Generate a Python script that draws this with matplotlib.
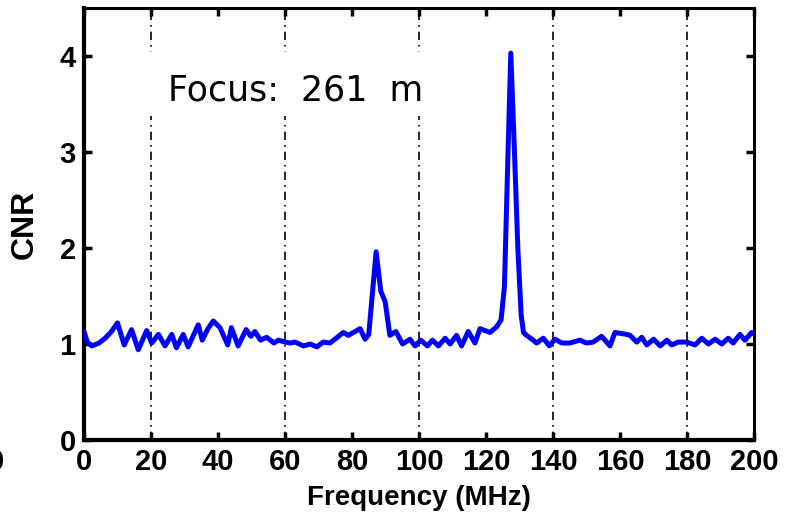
import matplotlib
matplotlib.use("Agg")
import matplotlib.pyplot as plt
from matplotlib.patches import Rectangle

# CNR spectrum at 261 m focus
freq = [0, 1.0, 2.3, 4.5, 6.3, 8.2, 10, 12, 14.2, 16.2, 18.7, 20.2, 22.2,
        24.2, 26.2, 27.6, 29.6, 31.1, 34.1, 35.3, 37.0, 38.6, 40.6, 42.9,
        44, 46, 48.4, 49.8, 51, 52.7, 54.5, 56.7, 58, 60, 61.5, 63, 65.5,
        67.5, 69.5, 71.4, 73.4, 74.9, 77.4, 78.9, 82.4, 83.9, 85.0, 87.2,
        88.6, 89.9, 91.3, 93.1, 95.1, 97.3, 98.8, 100.5, 102.5, 104.0, 105.8,
        107.8, 109.3, 111.2, 112.7, 114.7, 116.7, 118.2, 121.2, 123.2, 124.5,
        125.5, 126.5, 127.4, 128.5, 129.5, 130.5, 131.2, 132.1, 134.1, 135.1,
        137.1, 138.9, 140.6, 142.6, 145, 148, 150, 152, 154.5, 157, 158.5,
        162, 163, 165, 166.5, 168, 170, 172, 174, 175.4, 177.4, 179.9, 182.4,
        184.4, 186.4, 188.4, 190.4, 192.3, 193.8, 195.8, 197.3, 199.3, 200]
cnr = [1.13, 1.02, 0.98, 1.01, 1.06, 1.13, 1.22, 0.99, 1.15, 0.94, 1.14, 1.01,
       1.10, 0.98, 1.10, 0.96, 1.10, 0.97, 1.20, 1.04, 1.16, 1.24, 1.17, 0.99,
       1.17, 0.98, 1.15, 1.08, 1.13, 1.04, 1.07, 1.01, 1.04, 1.02, 1.01, 1.02,
       0.98, 1.00, 0.97, 1.02, 1.01, 1.05, 1.12, 1.09, 1.16, 1.05, 1.10, 1.96,
       1.55, 1.44, 1.09, 1.13, 1.00, 1.05, 0.98, 1.04, 0.98, 1.04, 0.98, 1.06,
       1.00, 1.09, 0.98, 1.13, 1.01, 1.16, 1.12, 1.18, 1.25, 1.60, 2.90, 4.03,
       3.00, 2.00, 1.30, 1.12, 1.09, 1.04, 1.01, 1.06, 0.98, 1.05, 1.01, 1.01,
       1.04, 1.01, 1.02, 1.08, 0.98, 1.12, 1.10, 1.09, 1.02, 1.07, 0.99, 1.05,
       0.98, 1.04, 0.99, 1.02, 1.02, 0.99, 1.06, 1.00, 1.05, 1.00, 1.06, 1.01,
       1.10, 1.04, 1.12, 1.11]

xticks = [0, 20, 40, 60, 80, 100, 120, 140, 160, 180, 200]
yticks = [0, 1, 2, 3, 4]
grid_x = [20, 60, 100, 140, 180]

plt.rcParams['font.family'] = ['Liberation Sans', 'DejaVu Sans']

fig = plt.figure(figsize=(7.89, 5.2), dpi=100)
ax = fig.add_axes([84 / 789, 1 - 440 / 520, 670 / 789, 432 / 520])

for gx in grid_x:
    ax.axvline(gx, color='black', lw=1.2, ls=(0, (5, 3, 1, 3)), zorder=1)

ax.plot(freq, cnr, color='#0000ff', lw=3.6, zorder=3,
        solid_joinstyle='round', solid_capstyle='round')

ax.set_xlim(0, 200)
ax.set_ylim(0, 4.5)
ax.set_xticks(xticks)
ax.set_yticks(yticks)
ax.tick_params(direction='in', length=6, width=2.5, top=True, right=True,
               labelsize=21, pad=6)
for lab in ax.get_xticklabels() + ax.get_yticklabels():
    lab.set_fontweight('bold')
for sp in ax.spines.values():
    sp.set_linewidth(2.2)
ax.spines['left'].set_linewidth(3)
ax.spines['bottom'].set_linewidth(3)

ax.set_xlabel('Frequency (MHz)', fontsize=20, fontweight='bold', labelpad=6)
ax.set_ylabel('CNR', fontsize=23, fontweight='bold', labelpad=14)

# white panel behind the annotation, hides the grid lines
ax.add_patch(Rectangle((18, 3.375), 84, 0.665, facecolor='white',
                       edgecolor='none', zorder=2))
ax.text(25, 3.54, 'Focus:  261  m', fontsize=25, family='DejaVu Sans',
        zorder=2.5)

# edge of the neighbouring panel's tick label
fig.text(4 / 789, 1 - 462 / 520, '0', fontsize=21, fontweight='bold',
         ha='right', va='center')

fig.savefig('out.png', dpi=100)
